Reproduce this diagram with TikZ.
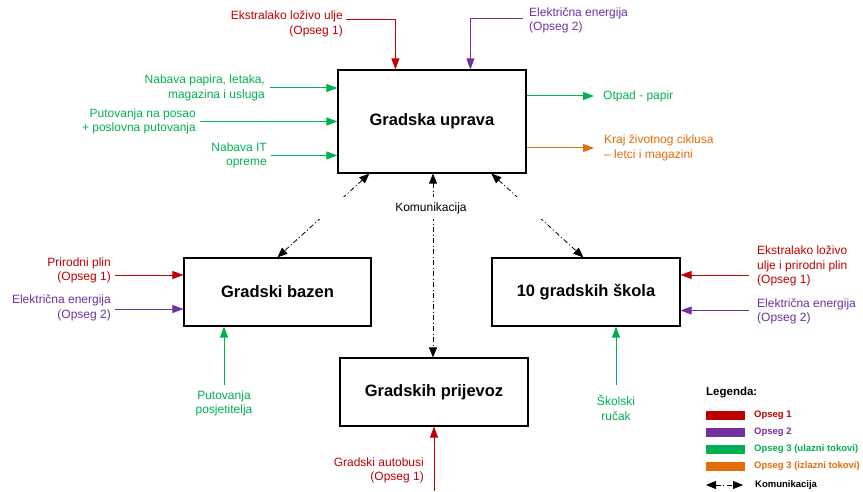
\documentclass[tikz,border=0pt]{standalone}
\usepackage{fontspec}
\setmainfont{Liberation Sans}
\usetikzlibrary{arrows.meta}
\definecolor{cR}{HTML}{C00000}
\definecolor{cP}{HTML}{7030A0}
\definecolor{cG}{HTML}{00B050}
\definecolor{cO}{HTML}{E36C0A}
\begin{document}
\begin{tikzpicture}[x=1pt,y=-1pt,
  box/.style={draw, line width=1.2pt, inner sep=0pt, font=\fontsize{16.5}{20}\selectfont\bfseries},
  lab/.style={inner sep=0pt, font=\fontsize{12}{14.5}\selectfont},
  flow/.style={line width=1pt, -{Triangle[length=11pt,width=8pt]}},
  comm/.style={line width=0.8pt, dash pattern=on 5pt off 2.5pt on 1pt off 2.5pt,
    {Triangle[length=10pt,width=8pt]}-{Triangle[length=10pt,width=8pt]}},
  sw/.style={minimum width=39pt, minimum height=9pt, inner sep=0pt},
  legtxt/.style={anchor=west, inner sep=0pt, font=\fontsize{9.5}{11}\selectfont\bfseries}]
\useasboundingbox (0,0) rectangle (863,492);

% boxes
\node[box, minimum width=188pt, minimum height=103pt] (uprava) at (432,121.5) {Gradska uprava};
\node[box, minimum width=187pt, minimum height=68pt] (bazen) at (277.5,292) {Gradski bazen};
\node[box, minimum width=188pt, minimum height=68pt] (skola) at (586,292) {10 gradskih škola};
\node[box, minimum width=188pt, minimum height=68pt] (prijevoz) at (434,392) {Gradskih prijevoz};

% Gradska uprava flows
\node[lab, cR, align=right, anchor=east] (e1) at (343,24) {Ekstralako loživo ulje\\(Opseg 1)};
\coordinate (c1) at (346,19.5);
\draw[flow,cR] (c1) -| ([xshift=58pt]uprava.north west);

\node[lab, cP, align=left, anchor=west] (e2) at (529,20.5) {Električna energija\\(Opseg 2)};
\coordinate (c2) at (523,19);
\draw[flow,cP] (c2) -| ([xshift=133pt]uprava.north west);

\node[lab, cG, align=right, anchor=east] (n1) at (265,88) {Nabava papira, letaka,\\magazina i usluga};
\draw[flow,cG] ([xshift=5pt]n1.east) -- (n1.east -| uprava.west);
\node[lab, cG, align=right, anchor=east] (n2) at (196,121.5) {Putovanja na posao\\+ poslovna putovanja};
\draw[flow,cG] ([xshift=4pt]n2.east) -- (n2.east -| uprava.west);
\node[lab, cG, align=right, anchor=east] (n3) at (267,155.5) {Nabava IT\\opreme};
\draw[flow,cG] ([xshift=4pt]n3.east) -- (n3.east -| uprava.west);

\node[lab, cG, anchor=west] (o1) at (603,96) {Otpad - papir};
\draw[flow,cG] (o1.west -| uprava.east) -- ([xshift=-9pt]o1.west);
\node[lab, cO, align=left, anchor=west] (o2) at (604,148) {Kraj životnog ciklusa\\– letci i magazini};
\draw[flow,cO] (o2.west -| uprava.east) -- ([xshift=-10pt]o2.west);

% Gradski bazen flows
\node[lab, cR, align=right, anchor=east] (b1) at (111,270.5) {Prirodni plin\\(Opseg 1)};
\coordinate (cb1) at (115,275);
\draw[flow,cR] (cb1) -- (cb1 -| bazen.west);
\node[lab, cP, align=right, anchor=east] (b2) at (111,308) {Električna energija\\(Opseg 2)};
\coordinate (cb2) at (115,309);
\draw[flow,cP] (cb2) -- (cb2 -| bazen.west);
\node[lab, cG, align=center] (b3) at (224,403.5) {Putovanja\\posjetitelja};
\coordinate (cb3) at (224,385);
\draw[flow,cG] (cb3) -- (cb3 |- bazen.south);

% 10 gradskih skola flows
\node[lab, cR, align=left, anchor=west] (s1) at (757,266) {Ekstralako loživo\\ulje i prirodni plin\\(Opseg 1)};
\coordinate (cs1) at (749,275);
\draw[flow,cR] (cs1) -- (cs1 -| skola.east);
\node[lab, cP, align=left, anchor=west] (s2) at (757,311.5) {Električna energija\\(Opseg 2)};
\coordinate (cs2) at (749,310.5);
\draw[flow,cP] (cs2) -- (cs2 -| skola.east);
\node[lab, cG, align=center] (s3) at (616,408) {Školski\\ručak};
\coordinate (cs3) at (616,385);
\draw[flow,cG] (cs3) -- (cs3 |- skola.south);

% Gradski prijevoz flow
\node[lab, cR, align=right, anchor=east] (p1) at (424,470.5) {Gradski autobusi\\(Opseg 1)};
\coordinate (cp1) at (434,491);
\draw[flow,cR] (cp1) -- (cp1 |- prijevoz.south);

% communication
\draw[comm] ([xshift=32pt]uprava.south west) -- ([xshift=94pt]bazen.north west);
\draw[comm] ([xshift=154pt]uprava.south west) -- ([xshift=92pt]skola.north west);
\draw[comm] ([xshift=1pt]uprava.south) -- ([xshift=-1pt]prijevoz.north);
\node[lab, fill=white, minimum width=240pt, minimum height=22pt] (komm) at (431,208.5) {Komunikacija};

% legend
\node[anchor=west, inner sep=0pt, font=\fontsize{11.5}{14}\selectfont\bfseries] (leg) at (706,393) {Legenda:};
\node[sw, fill=cR] (sw1) at (725.5,415) {};
\node[sw, fill=cP] (sw2) at (725.5,432.5) {};
\node[sw, fill=cG] (sw3) at (725.5,449.5) {};
\node[sw, fill=cO] (sw4) at (725.5,466.5) {};
\node[legtxt, cR] (lt1) at (754,415) {Opseg 1};
\node[legtxt, cP] (lt2) at (754,432.5) {Opseg 2};
\node[legtxt, cG] (lt3) at (754,449.5) {Opseg 3 (ulazni tokovi)};
\node[legtxt, cO] (lt4) at (754,466.5) {Opseg 3 (izlazni tokovi)};
\coordinate (lk1) at (706,485);
\coordinate (lk2) at (743,485);
\draw[comm] (lk1) -- (lk2);
\node[legtxt] (lt5) at (755,485) {Komunikacija};
\end{tikzpicture}
\end{document}
